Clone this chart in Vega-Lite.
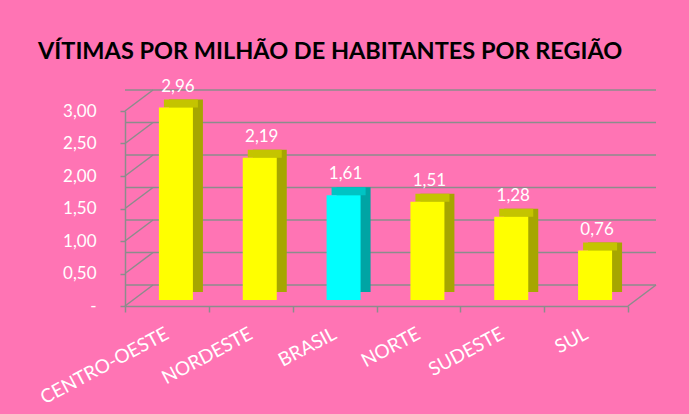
{
  "$schema": "https://vega.github.io/schema/vega-lite/v6.json",
  "width": 503,
  "height": 195,
  "autosize": "none",
  "padding": {"left": 125, "top": 111, "right": 61, "bottom": 108},
  "background": "#FF74B4",
  "title": {
    "text": "VÍTIMAS POR MILHÃO DE HABITANTES POR REGIÃO",
    "anchor": "start",
    "frame": "group",
    "dx": -87,
    "offset": 14,
    "font": "Lato",
    "fontSize": 23.5,
    "fontWeight": "bold",
    "color": "#000000"
  },
  "datasets": {
    "main": [
      {"regiao": "CENTRO-OESTE", "v": 2.96},
      {"regiao": "NORDESTE", "v": 2.19},
      {"regiao": "BRASIL", "v": 1.61},
      {"regiao": "NORTE", "v": 1.51},
      {"regiao": "SUDESTE", "v": 1.28},
      {"regiao": "SUL", "v": 0.76}
    ],
    "grid": [
      {"g": 0}, {"g": 0.5}, {"g": 1}, {"g": 1.5}, {"g": 2}, {"g": 2.5}, {"g": 3}
    ]
  },
  "layer": [
    {
      "data": {"name": "grid"},
      "mark": {"type": "rule", "color": "#8C8C8C", "strokeWidth": 1.5, "xOffset": 28, "yOffset": -21},
      "encoding": {
        "y": {"field": "g", "type": "quantitative", "scale": {"domain": [0, 3], "nice": false}}
      }
    },
    {
      "data": {"name": "grid"},
      "mark": {"type": "rule", "color": "#8C8C8C", "strokeWidth": 1.5, "x2Offset": 28, "y2Offset": -21},
      "encoding": {
        "x": {"datum": "CENTRO-OESTE", "type": "nominal", "bandPosition": 0, "scale": {"domain": ["CENTRO-OESTE", "NORDESTE", "BRASIL", "NORTE", "SUDESTE", "SUL"], "paddingInner": 0, "paddingOuter": 0}},
        "x2": {"datum": "CENTRO-OESTE", "bandPosition": 0},
        "y": {"field": "g", "type": "quantitative"},
        "y2": {"field": "g"}
      }
    },
    {
      "data": {"values": [{"z": 0}]},
      "mark": {"type": "rule", "color": "#8C8C8C", "strokeWidth": 1.5, "x2Offset": 28, "y2Offset": -21},
      "encoding": {
        "x": {"datum": "SUL", "type": "nominal", "bandPosition": 1},
        "x2": {"datum": "SUL", "bandPosition": 1},
        "y": {"field": "z", "type": "quantitative"},
        "y2": {"field": "z"}
      }
    },
    {
      "data": {"name": "main"},
      "mark": {"type": "bar", "xOffset": 19, "yOffset": -14, "y2Offset": -14, "width": 34},
      "encoding": {
        "x": {"field": "regiao", "type": "nominal", "sort": null},
        "y": {"field": "v", "type": "quantitative"},
        "y2": {"datum": 0},
        "color": {"condition": {"test": "datum.regiao == 'BRASIL'", "value": "#00A4A4"}, "value": "#A6A600"}
      }
    },
    {
      "data": {"name": "main"},
      "mark": {"type": "bar", "xOffset": 14, "yOffset": -14, "y2Offset": -6, "width": 34},
      "encoding": {
        "x": {"field": "regiao", "type": "nominal", "sort": null},
        "y": {"field": "v", "type": "quantitative"},
        "y2": {"field": "v"},
        "color": {"condition": {"test": "datum.regiao == 'BRASIL'", "value": "#00C4C4"}, "value": "#C4C400"}
      }
    },
    {
      "data": {"name": "main"},
      "mark": {"type": "bar", "xOffset": 9, "yOffset": -6, "y2Offset": -6, "width": 34},
      "encoding": {
        "x": {"field": "regiao", "type": "nominal", "sort": null},
        "y": {"field": "v", "type": "quantitative"},
        "y2": {"datum": 0},
        "color": {"condition": {"test": "datum.regiao == 'BRASIL'", "value": "#00FFFF"}, "value": "#FFFF00"}
      }
    },
    {
      "data": {"name": "main"},
      "mark": {
        "type": "text",
        "dx": 11,
        "dy": -22,
        "baseline": "alphabetic",
        "color": "#FFFFFF",
        "font": "Lato",
        "fontSize": 17,
        "text": {"expr": "replace(format(datum.v, '.2f'), '.', ',')"}
      },
      "encoding": {
        "x": {"field": "regiao", "type": "nominal", "sort": null},
        "y": {"field": "v", "type": "quantitative"}
      }
    }
  ],
  "config": {
    "view": {"stroke": null},
    "font": "Lato",
    "axisY": {
      "title": null,
      "grid": false,
      "values": [0, 0.5, 1, 1.5, 2, 2.5, 3],
      "labelExpr": "datum.value == 0 ? '-' : replace(format(datum.value, '.2f'), '.', ',')",
      "domainColor": "#8C8C8C",
      "domainWidth": 1.5,
      "tickColor": "#8C8C8C",
      "tickWidth": 1.5,
      "tickSize": 5,
      "labelColor": "#FFFFFF",
      "labelFont": "Lato",
      "labelFontSize": 17,
      "labelPadding": 24
    },
    "axisX": {
      "title": null,
      "grid": false,
      "labelAngle": -28,
      "labelAlign": "right",
      "labelBaseline": "middle",
      "labelColor": "#FFFFFF",
      "labelFont": "Lato",
      "labelFontSize": 19,
      "labelPadding": 20,
      "tickBand": "extent",
      "domainColor": "#8C8C8C",
      "domainWidth": 1.5,
      "tickColor": "#8C8C8C",
      "tickWidth": 1.5,
      "tickSize": 6
    }
  }
}
